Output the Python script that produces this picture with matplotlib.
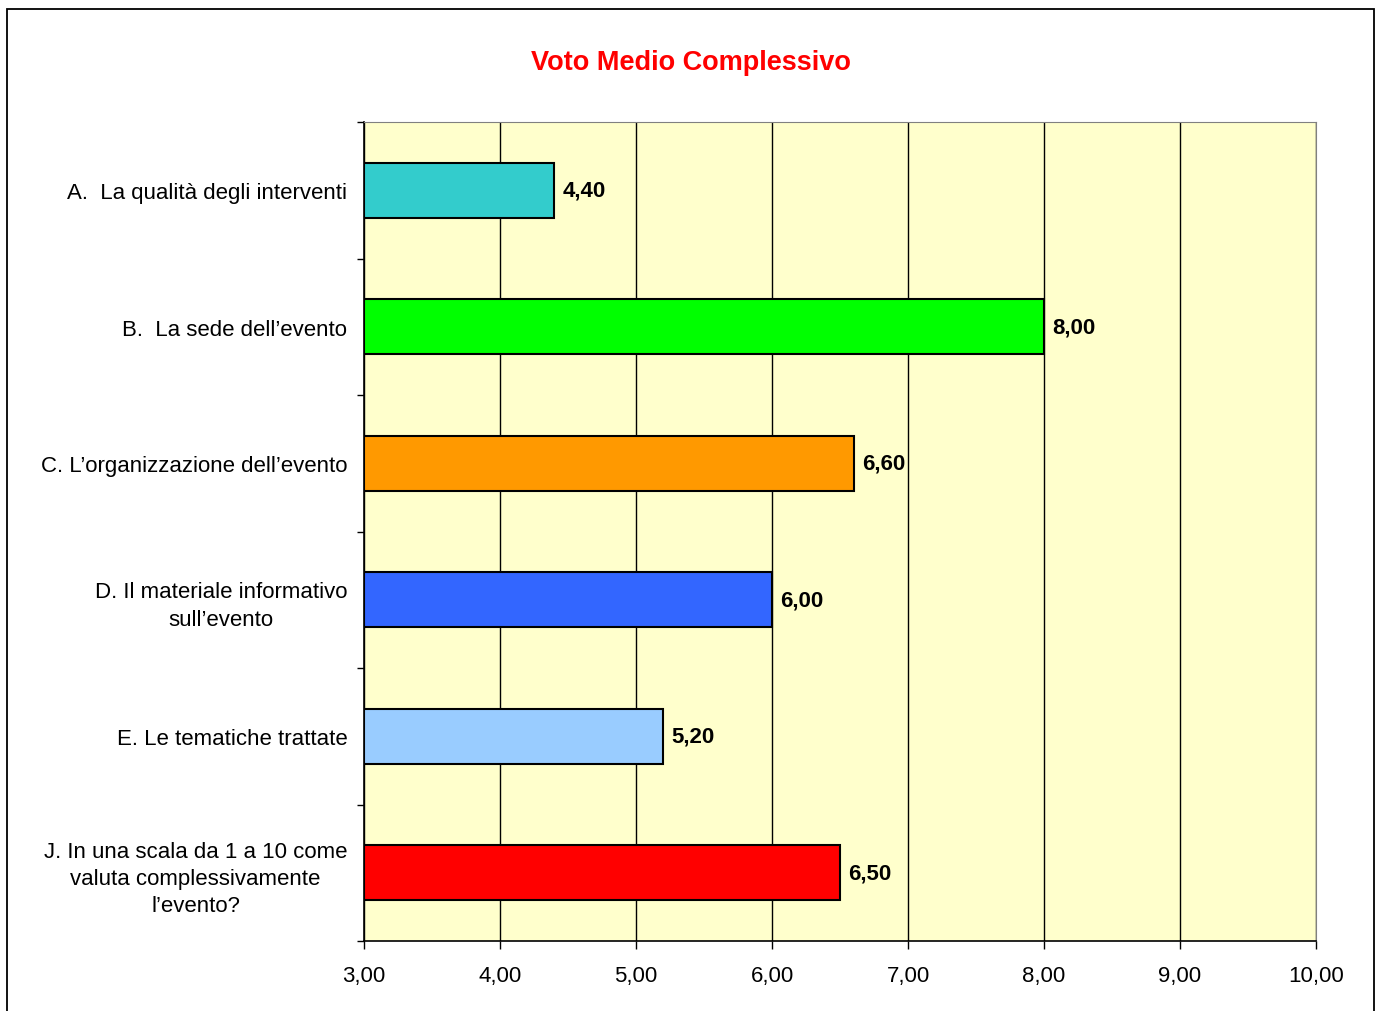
import matplotlib
matplotlib.use("Agg")
import matplotlib.pyplot as plt
from matplotlib.patches import Rectangle

categories = [
    "A.  La qualità degli interventi",
    "B.  La sede dell\u2019evento",
    "C. L\u2019organizzazione dell\u2019evento",
    "D. Il materiale informativo\nsull\u2019evento",
    "E. Le tematiche trattate",
    "J. In una scala da 1 a 10 come\nvaluta complessivamente\nl\u2019evento?",
]
values = [4.40, 8.00, 6.60, 6.00, 5.20, 6.50]
colors = ["#33CCCC", "#00FF00", "#FF9900", "#3366FF", "#99CCFF", "#FF0000"]
xticks = [3, 4, 5, 6, 7, 8, 9, 10]

plt.rcParams['font.family'] = ['Liberation Sans', 'DejaVu Sans']

W, H = 1381, 1012
fig = plt.figure(figsize=(W / 100, H / 100), dpi=100)
fig.patches.append(Rectangle((7 / W, -0.05), (1374 - 7) / W, 1.05 - 10 / H,
                             transform=fig.transFigure, fill=False,
                             edgecolor="black", linewidth=1.3))

ax = fig.add_axes([364 / W, 1 - 942 / H, (1316 - 364) / W, (942 - 123) / H])
ax.set_facecolor("#FFFFCC")

n = len(categories)
ys = list(range(n))
ax.barh(ys, [v - 3 for v in values], left=3, height=0.4, color=colors,
        edgecolor="black", linewidth=1.5, zorder=3)
for y, v in zip(ys, values):
    ax.text(v + 0.06, y, f"{v:.2f}".replace(".", ","), va="center", ha="left",
            fontsize=16, fontweight="bold", zorder=4)

ax.set_xlim(3, 10)
ax.set_ylim(n - 0.5, -0.5)
ax.set_xticks(xticks)
ax.set_xticklabels([f"{t:.2f}".replace(".", ",") for t in xticks], fontsize=16)
ax.set_yticks([i - 0.5 for i in range(n + 1)], minor=False)
ax.set_yticklabels([])
ax.set_yticks(ys, minor=True)
ax.set_yticklabels(categories, minor=True, fontsize=16, multialignment="center",
                   linespacing=1.4)
ax.tick_params(axis="y", which="minor", length=0, pad=12)
ax.tick_params(axis="y", which="major", length=5, width=1, direction="out")
ax.tick_params(axis="x", length=6, width=1, direction="out", pad=11)

ax.grid(axis="x", color="black", linewidth=1, zorder=1)
ax.set_axisbelow(True)
for s in ["top", "right"]:
    ax.spines[s].set_color("#808080")
for s in ["left", "bottom"]:
    ax.spines[s].set_color("black")
    ax.spines[s].set_linewidth(1.2)

fig.text((532 + 850) / 2 / W, 1 - 63 / H, "Voto Medio Complessivo", color="#FF0000",
         fontsize=19.5, fontweight="bold", ha="center", va="center")

fig.savefig("out.png", dpi=100)
